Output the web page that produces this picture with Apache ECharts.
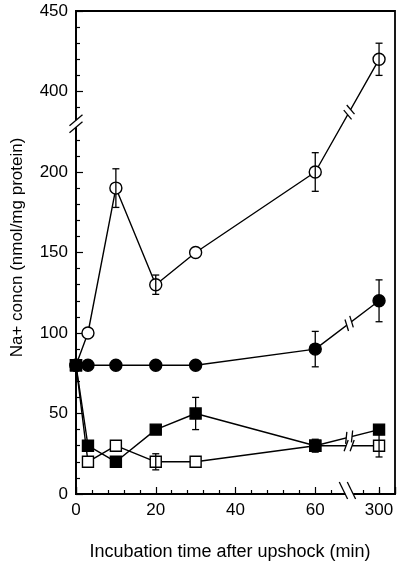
<!DOCTYPE html>
<html><head><meta charset="utf-8">
<script src="https://cdn.jsdelivr.net/npm/echarts@6/dist/echarts.min.js"></script>
<style>html,body{margin:0;padding:0;background:#fff}#c{width:400px;height:566px}</style>
</head><body><div id="c"></div>
<script>
// ---- data ----
const times = [0, 3, 10, 20, 30, 60, 300];
const openCircle   = [80, 100, 190, 130, 150, 200, 420];
const filledCircle = [80, 80, 80, 80, 80, 90, 120];
const filledSquare = [80, 30, 20, 40, 50, 30, 40];
const openSquare   = [80, 20, 30, 20, 20, 30, 30];
const openCircleErr   = [null, null, 12, 6, null, 12, 10];
const filledCircleErr = [null, null, null, null, null, 11, 13];
const filledSquareErr = [null, null, null, null, 10, 4, null];
const openSquareErr   = [null, null, null, 5, null, null, 7];
const xTickLabels = ['0', '20', '40', '60', '300'];
const yTickLabels = ['0', '50', '100', '150', '200', '400', '450'];
const xTitle = 'Incubation time after upshock (min)';
const yTitle = 'Na+ concn (nmol/mg protein)';

// ---- broken axes: map real values onto a continuous display scale ----
const X_BREAK = 68.5, X_SHIFT = 224;
const Y_BREAK = 230, Y_SHIFT = 150;
const xDisp = t => t <= X_BREAK ? t : t - X_SHIFT;
const yDisp = v => v <= Y_BREAK ? v : v - Y_SHIFT;
const xReal = d => d <= X_BREAK ? d : d + X_SHIFT;
const yReal = d => d <= Y_BREAK ? d : d + Y_SHIFT;

const FONT = "'Liberation Sans', Arial, Helvetica, sans-serif";
const chart = echarts.init(document.getElementById('c'), null, {renderer: 'canvas'});

function pts(vals) { return times.map((t, i) => [xDisp(t), yDisp(vals[i])]); }
function errData(vals, errs) {
  return times.map((t, i) => errs[i] == null ? null :
    [xDisp(t), yDisp(vals[i] - errs[i]), yDisp(vals[i] + errs[i])]).filter(Boolean);
}
const LW = 1.4;
function lineSeries(name, vals, symbol, size, filled, z) {
  return {
    name, type: 'line', data: pts(vals), symbol, symbolSize: size, z,
    showAllSymbol: true,
    lineStyle: {color: '#000', width: LW},
    itemStyle: {color: filled ? '#000' : '#fff', borderColor: '#000', borderWidth: LW, opacity: 1},
    emphasis: {disabled: true}, animation: false
  };
}
function errSeries(vals, errs) {
  return {
    type: 'custom', data: errData(vals, errs), z: 10, animation: false,
    encode: {x: 0, y: [1, 2]},
    renderItem: (params, api) => {
      const x = api.value(0);
      const lo = api.coord([x, api.value(1)]);
      const hi = api.coord([x, api.value(2)]);
      const w = 3.5, st = {stroke: '#000', lineWidth: 1.3};
      return {type: 'group', children: [
        {type: 'line', shape: {x1: lo[0], y1: lo[1], x2: hi[0], y2: hi[1]}, style: st},
        {type: 'line', shape: {x1: hi[0] - w, y1: hi[1], x2: hi[0] + w, y2: hi[1]}, style: st},
        {type: 'line', shape: {x1: lo[0] - w, y1: lo[1], x2: lo[0] + w, y2: lo[1]}, style: st}
      ]};
    }
  };
}

const axisCommon = {
  axisLine: {show: true, lineStyle: {color: '#000', width: 1.8}},
  splitLine: {show: false},
  axisLabel: {color: '#000', fontSize: 17, fontFamily: FONT, margin: 8},
};

chart.setOption({
  animation: false,
  backgroundColor: '#fff',
  grid: {left: 76, right: 5, top: 11, bottom: 71, show: true, borderColor: '#000', borderWidth: 1.8, containLabel: false},
  xAxis: [
    Object.assign({}, axisCommon, {
      type: 'value', min: 0, max: 80, interval: 20, position: 'bottom',
      axisTick: {show: true, inside: true, length: 7, lineStyle: {color: '#000', width: 1.2}},
      minorTick: {show: true, splitNumber: 5, length: 4, lineStyle: {color: '#000', width: 1.2}},
      axisLabel: Object.assign({}, axisCommon.axisLabel, {
        formatter: v => { const r = String(xReal(v)); return v <= X_BREAK && xTickLabels.includes(r) ? r : ''; }
      }),
      name: xTitle, nameLocation: 'middle', nameGap: 49,
      nameTextStyle: {color: '#000', fontSize: 18, fontFamily: FONT, padding: [0, 11, 0, 0]}
    }),
    {
      type: 'value', min: 0, max: 80, interval: 76, position: 'bottom',
      axisLine: {show: false}, splitLine: {show: false},
      axisTick: {show: true, inside: true, length: 7, lineStyle: {color: '#000', width: 1.2}},
      axisLabel: {color: '#000', fontSize: 17, fontFamily: FONT, margin: 8,
        formatter: v => { const r = String(xReal(v)); return v > X_BREAK && xTickLabels.includes(r) ? r : ''; }}
    }
  ],
  yAxis: Object.assign({}, axisCommon, {
    type: 'value', min: 0, max: 300, interval: 50,
    axisTick: {show: true, inside: true, length: 7, lineStyle: {color: '#000', width: 1.2}},
    minorTick: {show: true, splitNumber: 5, length: 4, lineStyle: {color: '#000', width: 1.2}},
    axisLabel: Object.assign({}, axisCommon.axisLabel, {
      formatter: v => { const r = String(yReal(v)); return yTickLabels.includes(r) ? r : ''; }
    }),
    name: yTitle, nameLocation: 'middle', nameGap: 50, nameRotate: 90,
    nameTextStyle: {color: '#000', fontSize: 17, fontFamily: FONT, padding: [0, 0, 0, 10]}
  }),
  series: [
    lineSeries('openSquare', openSquare, 'rect', 11, false, 2),
    lineSeries('filledCircle', filledCircle, 'circle', 12, true, 3),
    lineSeries('openCircle', openCircle, 'circle', 12, false, 4),
    lineSeries('filledSquare', filledSquare, 'rect', 11, true, 5),
    errSeries(openSquare, openSquareErr),
    errSeries(filledSquare, filledSquareErr),
    errSeries(filledCircle, filledCircleErr),
    errSeries(openCircle, openCircleErr)
  ]
});

// ---- break marks (decoration) ----
const g = [];
const toPx = (x, y) => chart.convertToPixel({gridIndex: 0}, [x, y]);
const stk = {stroke: '#000', lineWidth: 1.3};
function seg(x1, y1, x2, y2, style, z) { g.push({type: 'line', shape: {x1, y1, x2, y2}, style, z: z || 100, silent: true}); }
function rect(x, y, w, h) { g.push({type: 'rect', shape: {x, y, width: w, height: h}, style: {fill: '#fff'}, z: 99, silent: true}); }

// y-axis break
const yb = toPx(0, Y_BREAK);
{
  const ax = yb[0], c = yb[1];
  rect(ax - 3, c - 3.5, 9, 7);
  const dx = 13, dy = -11, n = Math.hypot(dx, dy), ux = dx / n, uy = dy / n, L = 8.5;
  [-3.5, 3.5].forEach(o => seg(ax - ux * L, c + o - uy * L, ax + ux * L, c + o + uy * L, stk));
}
// x-axis break
const xb = toPx(X_BREAK, 0);
{
  const gx = xb[0], ay = xb[1];
  rect(gx - 4, ay - 6, 8, 9);
  const k = 8.3 / 17;
  [-4, 4].forEach(o => seg(gx + o - 12 * k, ay - 12, gx + o + 5 * k, ay + 5, stk));
}
// breaks on each series line between 60 and 300 min
[openCircle, filledCircle, filledSquare, openSquare].forEach(vals => {
  const p5 = toPx(xDisp(times[5]), yDisp(vals[5]));
  const p6 = toPx(xDisp(times[6]), yDisp(vals[6]));
  const f = (xb[0] - p5[0]) / (p6[0] - p5[0]);
  const cx = p5[0] + f * (p6[0] - p5[0]), cy = p5[1] + f * (p6[1] - p5[1]);
  const n = Math.hypot(p6[0] - p5[0], p6[1] - p5[1]);
  const ux = (p6[0] - p5[0]) / n, uy = (p6[1] - p5[1]) / n;
  const th = Math.atan2(-uy, ux) + 70 * Math.PI / 180;
  const dx = Math.cos(th), dy = -Math.sin(th), L = 6;
  seg(cx - 3 * ux, cy - 3 * uy, cx + 3 * ux, cy + 3 * uy, {stroke: '#fff', lineWidth: 3}, 99);
  [-3, 3].forEach(o => {
    const mx = cx + o * ux, my = cy + o * uy;
    seg(mx - L * dx, my - L * dy, mx + L * dx, my + L * dy, stk);
  });
});
chart.setOption({graphic: g});
</script></body></html>
